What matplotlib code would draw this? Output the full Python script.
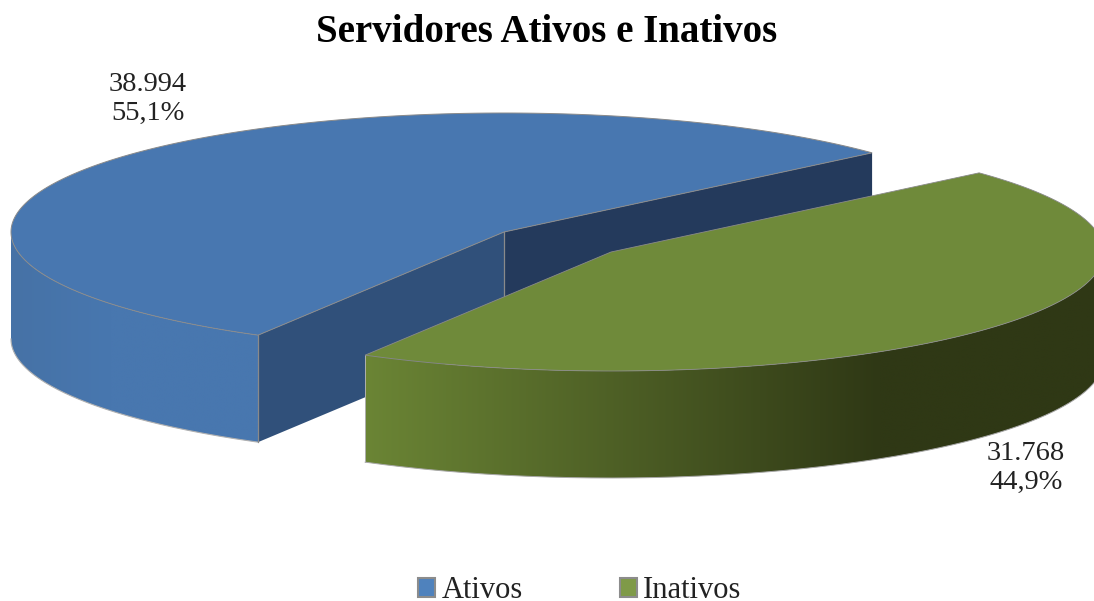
import numpy as np
import matplotlib
matplotlib.use("Agg")
import matplotlib.pyplot as plt
from matplotlib.colors import to_rgb
from matplotlib.patches import Patch, Polygon

categories = ["Ativos", "Inativos"]
values = [38994, 31768]
value_labels = ["38.994", "31.768"]
percent_labels = ["55,1%", "44,9%"]
top_colors = ["#4877B0", "#6F8A3A"]
title = "Servidores Ativos e Inativos"

plt.rcParams["font.family"] = ["Liberation Serif", "DejaVu Serif"]

W, H = 1094, 601
fig = plt.figure(figsize=(W / 100, H / 100), dpi=100)
ax = fig.add_axes([0, 0, 1, 1])
ax.set_xlim(0, W)
ax.set_ylim(H, 0)
ax.axis("off")

RX, RY, DEPTH = 493, 119, 107
START = 41.7
centers = [(504, 232), (611, 252)]
EDGE = "#8a8a8a"

fractions = np.array(values, dtype=float) / sum(values)
sweeps = fractions * 360


def rim(center, t0, t1, n=240):
    # y grows downward: angle 0 = right, 90 = top.
    t = np.radians(np.linspace(t0, t1, n))
    return center[0] + RX * np.cos(t), center[1] - RY * np.sin(t)


def wall(center, t0, t1, c_left, c_right, stops, z):
    x, y = rim(center, t0, t1, 400)
    outline = np.r_[np.c_[x, y], np.c_[x[::-1], y[::-1] + DEPTH]]
    clip = Polygon(outline, closed=True, transform=ax.transData, fc="none", ec="none")
    ax.add_patch(clip)
    xs_ = np.linspace(x.min(), x.max(), 600)
    f = np.clip((xs_ - stops[0]) / (stops[1] - stops[0]), 0, 1)[:, None]
    cols = np.array(to_rgb(c_left)) * (1 - f) + np.array(to_rgb(c_right)) * f
    im = ax.imshow(cols[None, :, :], extent=(x.min(), x.max(), y.max() + DEPTH, y.min()),
                   aspect="auto", zorder=z, interpolation="bilinear")
    im.set_clip_path(clip)
    ax.set_xlim(0, W)
    ax.set_ylim(H, 0)


# Blue slice
t0b, t1b = START, START + sweeps[0]
cb = centers[0]
xs, ys = rim(cb, t0b, t0b, 1)
xe, ye = rim(cb, t1b, t1b, 1)

wall(cb, 180, t1b, "#4672A6", "#4877AF", (12, 110), 1)
x_b, y_b = rim(cb, 180, t1b)
ax.plot(x_b, y_b + DEPTH, color="#b0b0b0", lw=0.8, zorder=1.1)

ax.add_patch(Polygon([(cb[0], cb[1]), (xe[0], ye[0]), (xe[0], ye[0] + DEPTH), (cb[0], cb[1] + DEPTH)],
                     closed=True, fc="#30507A", ec="none", zorder=2))
ax.add_patch(Polygon([(cb[0], cb[1]), (xs[0], ys[0]), (xs[0], ys[0] + DEPTH), (cb[0], cb[1] + DEPTH)],
                     closed=True, fc="#243A5C", ec="none", zorder=2))
ax.plot([xe[0], xe[0]], [ye[0], ye[0] + DEPTH], color=EDGE, lw=0.9, zorder=2.5)
ax.plot([cb[0], cb[0]], [cb[1], cb[1] + DEPTH], color=EDGE, lw=0.9, zorder=2.5)

xb, yb = rim(cb, t0b, t1b)
ax.add_patch(Polygon(np.r_[[cb], np.c_[xb, yb]], closed=True, fc=top_colors[0], ec=EDGE, lw=0.7, zorder=3))

# Green slice
t0g, t1g = t1b, t1b + sweeps[1]
cg = centers[1]
wall(cg, t0g, 360, "#6B8535", "#2F3815", (365, 880), 4)
x_g, y_g = rim(cg, t0g, 360)
ax.plot(x_g, y_g + DEPTH, color="#a8a8a8", lw=0.7, zorder=4.1)
ax.plot([x_g[0], x_g[0]], [y_g[0], y_g[0] + DEPTH], color="#b0b0b0", lw=0.7, zorder=4.1)
xg, yg = rim(cg, t0g, t1g)
ax.add_patch(Polygon(np.r_[[cg], np.c_[xg, yg]], closed=True, fc=top_colors[1], ec=EDGE, lw=0.6, zorder=5))

ax.text(547, 32, title, ha="center", va="center", fontsize=28, fontweight="bold", color="#000000")
ax.text(148, 99, value_labels[0] + "\n" + percent_labels[0], ha="center", va="center",
        fontsize=20.5, color="#222222", linespacing=1.25)
ax.text(1026, 468, value_labels[1] + "\n" + percent_labels[1], ha="center", va="center",
        fontsize=20.5, color="#222222", linespacing=1.25)

handles = [Patch(fc=c, ec="#8c8c8c", lw=1.5) for c in ["#4F82BD", "#7F9A48"]]
ax.legend(handles, categories, loc="center", bbox_to_anchor=(580 / W, 1 - 591 / H), ncol=2,
          frameon=False, fontsize=22, handlelength=0.55, handleheight=0.55, handletextpad=0.2,
          columnspacing=3.2, borderpad=0, labelcolor="#222222")

fig.savefig("out.png", dpi=100)
